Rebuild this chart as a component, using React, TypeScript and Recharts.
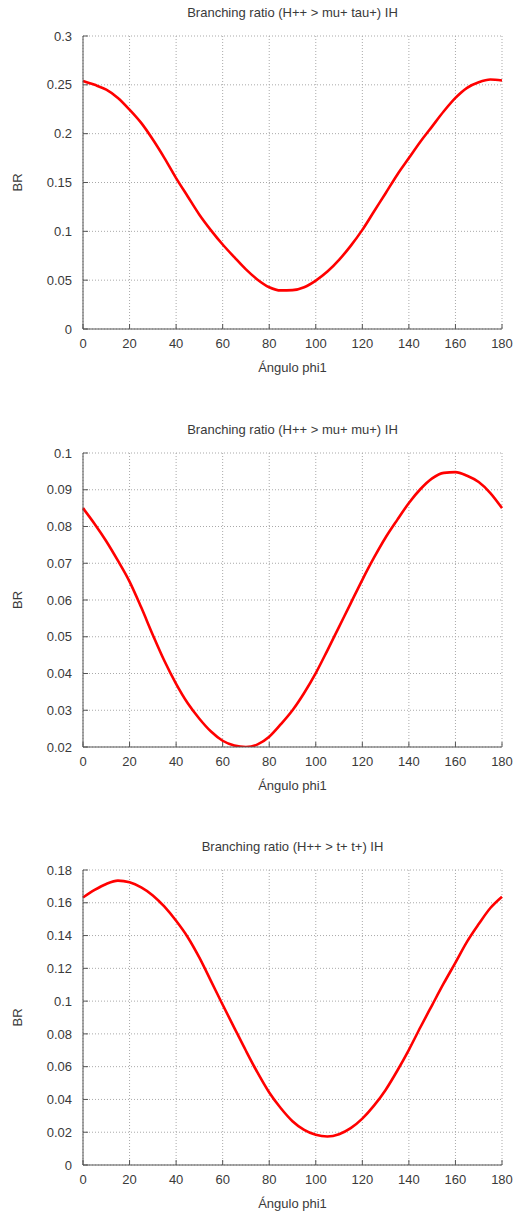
import React from "react";
import { LineChart, Line, XAxis, YAxis, CartesianGrid, Label } from "recharts";

// Angle phi1 in degrees (sampled every 5°)
const ANGLES = [
  0, 5, 10, 15, 20, 25, 30, 35, 40, 45, 50, 55, 60, 65, 70, 75, 80, 85, 90,
  95, 100, 105, 110, 115, 120, 125, 130, 135, 140, 145, 150, 155, 160, 165,
  170, 175, 180,
];

// BR(H++ -> mu+ tau+), inverted hierarchy
const BR_MU_TAU = [
  0.254, 0.25, 0.245, 0.2366, 0.2246, 0.211, 0.194, 0.175, 0.1545, 0.1357,
  0.117, 0.101, 0.0865, 0.0735, 0.061, 0.0505, 0.0428, 0.0395, 0.0398,
  0.0427, 0.0496, 0.0588, 0.0708, 0.0851, 0.1015, 0.1203, 0.139, 0.158,
  0.175, 0.192, 0.2075, 0.2229, 0.2366, 0.2469, 0.2526, 0.2554, 0.2544,
];

// BR(H++ -> mu+ mu+), inverted hierarchy
const BR_MU_MU = [
  0.085, 0.0807, 0.076, 0.0707, 0.065, 0.058, 0.0505, 0.0434, 0.0372, 0.0319,
  0.0277, 0.0242, 0.0217, 0.0204, 0.02, 0.0207, 0.0228, 0.0262, 0.03, 0.0347,
  0.0401, 0.0463, 0.0527, 0.0591, 0.0655, 0.0715, 0.077, 0.0818, 0.0864,
  0.0902, 0.0931, 0.0946, 0.0948, 0.0938, 0.0921, 0.0891, 0.085,
];

// BR(H++ -> tau+ tau+), inverted hierarchy
const BR_TAU_TAU = [
  0.1632, 0.1678, 0.1715, 0.1735, 0.1725, 0.1694, 0.1645, 0.1576, 0.149,
  0.139, 0.1265, 0.1122, 0.0978, 0.0837, 0.0697, 0.0563, 0.0442, 0.0346,
  0.0267, 0.0214, 0.0184, 0.0174, 0.0188, 0.0225, 0.0283, 0.0362, 0.0458,
  0.0575, 0.0703, 0.0842, 0.0976, 0.1109, 0.1235, 0.1363, 0.147, 0.1568,
  0.1637,
];

const X_TICKS = [0, 20, 40, 60, 80, 100, 120, 140, 160, 180];
const Y_TICKS_MU_TAU = [0, 0.05, 0.1, 0.15, 0.2, 0.25, 0.3];
const Y_TICKS_MU_MU = [0.02, 0.03, 0.04, 0.05, 0.06, 0.07, 0.08, 0.09, 0.1];
const Y_TICKS_TAU_TAU = [0, 0.02, 0.04, 0.06, 0.08, 0.1, 0.12, 0.14, 0.16, 0.18];

const TITLES = [
  "Branching ratio (H++ > mu+ tau+) IH",
  "Branching ratio (H++ > mu+ mu+) IH",
  "Branching ratio (H++ > t+ t+) IH",
];
const X_LABEL = "Ángulo phi1";
const Y_LABEL = "BR";

const FONT = "'Liberation Sans', Arial, sans-serif";
const FONT_SIZE = 13;
const TEXT = "#3a3a3a";
const FRAME = "#555555";
const W = 514;
const H = 417;

type PanelProps = {
  title: string;
  values: number[];
  yTicks: number[];
  top: number;
  bottomMargin: number;
};

function Panel({ title, values, yTicks, top, bottomMargin }: PanelProps) {
  const data = ANGLES.map((a, i) => ({ angle: a, br: values[i] }));
  const yDomain: [number, number] = [yTicks[0], yTicks[yTicks.length - 1]];
  const tickStyle = { fontFamily: FONT, fontSize: FONT_SIZE, fill: TEXT };

  return (
    <div style={{ position: "absolute", left: 0, top, width: W, height: H }}>
      <div
        style={{
          position: "absolute",
          left: 83,
          width: 419,
          top: 5,
          textAlign: "center",
          fontFamily: FONT,
          fontSize: FONT_SIZE,
          color: TEXT,
          lineHeight: "16px",
          whiteSpace: "nowrap",
        }}
      >
        {title}
      </div>
      <LineChart
        width={W}
        height={H}
        data={data}
        margin={{ top: 36, right: 12, bottom: bottomMargin, left: 0 }}
      >
        <CartesianGrid stroke="#a9a9a9" strokeDasharray="1 2" />
        <XAxis
          dataKey="angle"
          type="number"
          domain={[0, 180]}
          ticks={X_TICKS}
          interval={0}
          height={30}
          tickSize={-5}
          tickMargin={15}
          tick={tickStyle}
          stroke={FRAME}
          axisLine={{ stroke: FRAME }}
          tickLine={{ stroke: FRAME }}
        >
          <Label
            content={(props: any) => {
              const vb = props.viewBox || {};
              return (
                <text
                  x={vb.x + vb.width / 2}
                  y={vb.y + 38}
                  textAnchor="middle"
                  dominantBaseline="central"
                  fontFamily={FONT}
                  fontSize={FONT_SIZE}
                  fill={TEXT}
                >
                  {X_LABEL}
                </text>
              );
            }}
          />
        </XAxis>
        <XAxis
          xAxisId="top"
          orientation="top"
          dataKey="angle"
          type="number"
          domain={[0, 180]}
          ticks={X_TICKS}
          interval={0}
          height={0}
          tickSize={-5}
          tickFormatter={() => ""}
          axisLine={{ stroke: FRAME }}
          tickLine={{ stroke: FRAME }}
        />
        <YAxis
          type="number"
          domain={yDomain}
          ticks={yTicks}
          interval={0}
          width={83}
          tickSize={-5}
          tickMargin={16}
          tick={tickStyle}
          tickFormatter={(v: number) => String(v)}
          axisLine={{ stroke: FRAME }}
          tickLine={{ stroke: FRAME }}
          allowDataOverflow
        >
          <Label
            content={(props: any) => {
              const vb = props.viewBox || {};
              const cy = vb.y + vb.height / 2;
              return (
                <text
                  x={17}
                  y={cy}
                  transform={`rotate(-90, 17, ${cy})`}
                  textAnchor="middle"
                  dominantBaseline="central"
                  fontFamily={FONT}
                  fontSize={FONT_SIZE}
                  fill={TEXT}
                >
                  {Y_LABEL}
                </text>
              );
            }}
          />
        </YAxis>
        <YAxis
          yAxisId="right"
          orientation="right"
          type="number"
          domain={yDomain}
          ticks={yTicks}
          interval={0}
          width={0}
          tickSize={-5}
          tickFormatter={() => ""}
          axisLine={{ stroke: FRAME }}
          tickLine={{ stroke: FRAME }}
        />
        <Line
          type="monotone"
          dataKey="br"
          stroke="#ff0000"
          strokeWidth={2.6}
          dot={false}
          activeDot={false}
          isAnimationActive={false}
        />
      </LineChart>
    </div>
  );
}

export default function App() {
  return (
    <div
      style={{
        position: "absolute",
        left: 0,
        top: 0,
        width: W,
        height: 1214,
        background: "#ffffff",
      }}
    >
      <Panel title={TITLES[0]} values={BR_MU_TAU} yTicks={Y_TICKS_MU_TAU} top={0} bottomMargin={58} />
      <Panel title={TITLES[1]} values={BR_MU_MU} yTicks={Y_TICKS_MU_MU} top={417} bottomMargin={57} />
      <Panel title={TITLES[2]} values={BR_TAU_TAU} yTicks={Y_TICKS_TAU_TAU} top={834} bottomMargin={56} />
    </div>
  );
}
